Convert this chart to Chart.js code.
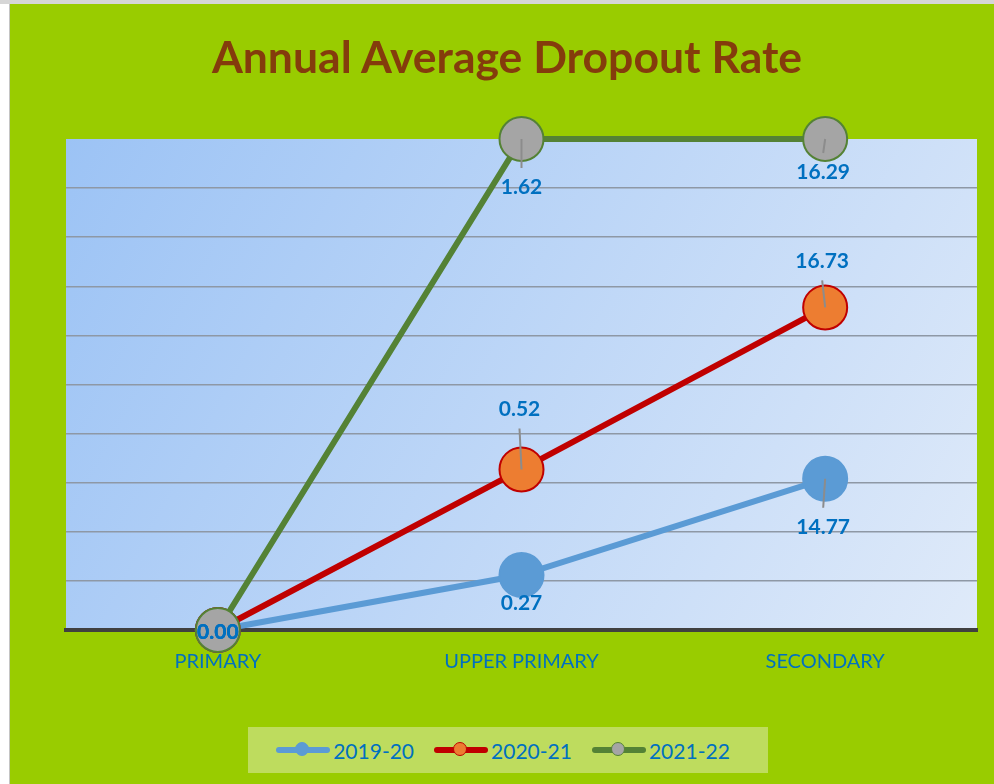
<!DOCTYPE html>
<html>
<head>
<meta charset="utf-8">
<script src="https://cdn.jsdelivr.net/npm/chart.js@4"></script>
<style>
  html, body { margin: 0; padding: 0; background: #ffffff; }
  #topStrip { position: absolute; left: 0; top: 0; width: 994px; height: 4px; background: #d6d6d6; }
  #wrap { position: absolute; left: 9px; top: 4px; width: 984px; height: 780px; background: #99cc00; border-left: 1px solid #c4c4c4; }
  #title {
    position: absolute; left: 7px; top: 29px; width: 1000px; text-align: center; margin: 0;
    font-family: Lato, "Open Sans", sans-serif; font-size: 44.5px; font-weight: bold; color: #843c0c;
    line-height: 54px;
  }
  #legend {
    position: absolute; left: 248px; top: 727px; width: 520px; height: 46px;
    background: #bedc5e; display: flex; align-items: center; justify-content: center;
    font-family: Lato, "Open Sans", sans-serif; font-size: 21px; color: #0070c0;
    box-sizing: border-box; padding-right: 10px;
  }
  .item { display: flex; align-items: center; margin: 0 10px; }
  .sym { position: relative; width: 54px; height: 6px; border-radius: 3px; margin-right: 3px; }
  .dot { position: absolute; left: 19px; top: -5px; width: 14px; height: 14px; border-radius: 50%; border: 1.5px solid; box-sizing: border-box; }
</style>
</head>
<body>
<div id="topStrip"></div>
<div id="wrap"><canvas id="chartCanvas" width="984" height="780"></canvas></div>
<div id="title">Annual Average Dropout Rate</div>
<div id="legend"></div>
<script>
// ── Data ──
var categories = ['PRIMARY', 'UPPER PRIMARY', 'SECONDARY'];
var seriesNames = ['2019-20', '2020-21', '2021-22'];

// plotted heights (grid units)
var values2019 = [0, 1.12, 3.08];
var values2020 = [0, 3.27, 6.57];
var values2021 = [0, 10, 10];

// data label texts shown on the chart
var labels2019 = ['0.00', '0.27', '14.77'];
var labels2020 = ['0.00', '0.52', '16.73'];
var labels2021 = ['0.00', '1.62', '16.29'];

// ── Label placement (px from point) ──
var labelOffsets = [
  [[0, 2], [0, 28], [-2, 48]],
  [[0, 2], [-2, -60], [-3, -46]],
  [[0, 2], [0, 48], [-2, 33]]
];

var lineColors = ['#5b9bd5', '#c00000', '#548235'];
var pointFills = ['#5b9bd5', '#ed7d31', '#a5a5a5'];
var pointBorders = ['#5b9bd5', '#c00000', '#548235'];

// ── Plot background gradient ──
var plotBackground = {
  id: 'plotBackground',
  beforeDraw: function(chart) {
    var a = chart.chartArea, ctx = chart.ctx;
    var g = ctx.createLinearGradient(a.left, a.top, a.right, a.bottom);
    g.addColorStop(0, '#9cc3f5');
    g.addColorStop(1, '#dfeaf9');
    ctx.save();
    ctx.fillStyle = g;
    ctx.fillRect(a.left, a.top, a.right - a.left, a.bottom - a.top);
    ctx.restore();
  }
};

// ── Data labels with leader lines ──
var dataLabels = {
  id: 'dataLabels',
  afterDatasetsDraw: function(chart) {
    var ctx = chart.ctx;
    var allLabels = [labels2019, labels2020, labels2021];
    ctx.save();
    ctx.font = 'bold 21px Lato, "Open Sans", sans-serif';
    ctx.textAlign = 'center';
    ctx.textBaseline = 'middle';
    chart.data.datasets.forEach(function(ds, di) {
      var meta = chart.getDatasetMeta(di);
      meta.data.forEach(function(pt, i) {
        var off = labelOffsets[di][i];
        var lx = pt.x + off[0], ly = pt.y + off[1];
        if (Math.abs(off[1]) > 30) {
          var s = off[1] > 0 ? 1 : -1;
          ctx.strokeStyle = '#8c8c8c';
          ctx.lineWidth = 2;
          ctx.beginPath();
          ctx.moveTo(pt.x, pt.y);
          ctx.lineTo(lx, ly - s * 19);
          ctx.stroke();
        }
        ctx.fillStyle = '#0070c0';
        ctx.fillText(allLabels[di][i], lx, ly);
      });
    });
    ctx.restore();
  }
};

function makeDataset(name, values, idx) {
  return {
    label: name,
    data: values,
    borderColor: lineColors[idx],
    borderWidth: 6,
    pointRadius: 22,
    pointHoverRadius: 22,
    pointBackgroundColor: pointFills[idx],
    pointBorderColor: pointBorders[idx],
    pointBorderWidth: 2,
    tension: 0,
    clip: false,
    order: 3 - idx
  };
}

var ctx = document.getElementById('chartCanvas').getContext('2d');
var chartInstance = new Chart(ctx, {
  type: 'line',
  data: {
    labels: categories,
    datasets: [
      makeDataset(seriesNames[0], values2019, 0),
      makeDataset(seriesNames[1], values2020, 1),
      makeDataset(seriesNames[2], values2021, 2)
    ]
  },
  options: {
    responsive: false,
    animation: false,
    events: [],
    layout: { autoPadding: false, padding: { left: 56, right: 17, top: 135, bottom: 90 } },
    plugins: {
      legend: { display: false },
      tooltip: { enabled: false },
      title: { display: false }
    },
    scales: {
      x: {
        offset: true,
        grid: { display: false, drawTicks: false },
        border: { display: true, color: '#404040', width: 4 },
        ticks: {
          color: '#0070c0',
          padding: 20,
          font: { family: 'Lato, "Open Sans", sans-serif', size: 20 }
        }
      },
      y: {
        min: 0,
        max: 10,
        grid: {
          drawTicks: false,
          lineWidth: 1.5,
          color: function(c) {
            return (c.tick.value === 0 || c.tick.value === 10) ? 'rgba(0,0,0,0)' : '#8e98a5';
          }
        },
        border: { display: false },
        ticks: { display: false, stepSize: 1 }
      }
    }
  },
  plugins: [plotBackground, dataLabels]
});

// ── HTML legend ──
var legendEl = document.getElementById('legend');
seriesNames.forEach(function(name, i) {
  var item = document.createElement('div');
  item.className = 'item';
  var sym = document.createElement('span');
  sym.className = 'sym';
  sym.style.background = lineColors[i];
  var dot = document.createElement('span');
  dot.className = 'dot';
  dot.style.background = pointFills[i];
  dot.style.borderColor = pointBorders[i];
  sym.appendChild(dot);
  var txt = document.createElement('span');
  txt.textContent = name;
  item.appendChild(sym);
  item.appendChild(txt);
  legendEl.appendChild(item);
});
</script>
</body>
</html>
